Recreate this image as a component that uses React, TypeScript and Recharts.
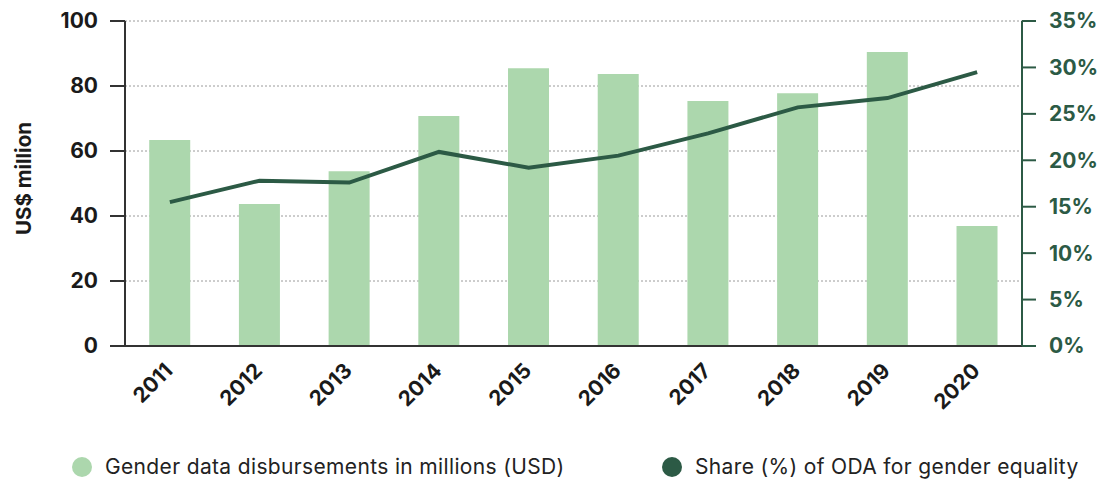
import React from "react";
import {
  ComposedChart, Bar, Line, XAxis, YAxis, CartesianGrid, Legend,
} from "recharts";

const YEARS = ["2011", "2012", "2013", "2014", "2015", "2016", "2017", "2018", "2019", "2020"];
const DISBURSEMENTS = [63.4, 43.7, 53.8, 70.8, 85.5, 83.7, 75.4, 77.8, 90.5, 36.9];
const ODA_SHARE = [15.5, 17.8, 17.6, 20.9, 19.2, 20.5, 22.9, 25.7, 26.7, 29.5];
const LEFT_TICKS = [0, 20, 40, 60, 80, 100];
const RIGHT_TICKS = [0, 5, 10, 15, 20, 25, 30, 35];

const BAR_NAME = "Gender data disbursements in millions (USD)";
const LINE_NAME = "Share (%) of ODA for gender equality";

const BAR_COLOR = "#acd7ad";
const LINE_COLOR = "#2c5a45";
const FONT = "Inter, 'Noto Sans', sans-serif";

const data = YEARS.map((year, i) => ({
  year,
  disbursements: DISBURSEMENTS[i],
  share: ODA_SHARE[i],
}));

function YearTick({ x, y, payload }: any) {
  const ax = x + 4;
  const ay = y + 18;
  return (
    <text
      x={ax}
      y={ay}
      transform={`rotate(-45, ${ax}, ${ay})`}
      textAnchor="end"
      fontFamily={FONT}
      fontSize={21}
      fontWeight={700}
      fill="#1a1a1a"
    >
      {payload.value}
    </text>
  );
}

function YLabel({ viewBox }: any) {
  const cx = viewBox.x + 23;
  const cy = viewBox.y + viewBox.height / 2 - 5;
  return (
    <text
      x={cx}
      y={cy}
      transform={`rotate(-90, ${cx}, ${cy})`}
      textAnchor="middle"
      dominantBaseline="central"
      fontFamily={FONT}
      fontSize={20.5}
      fontWeight={700}
      fill="#1a1a1a"
    >
      US$ million
    </text>
  );
}

function LegendContent() {
  const items = [
    { name: BAR_NAME, color: BAR_COLOR, left: 72 },
    { name: LINE_NAME, color: LINE_COLOR, left: 662 },
  ];
  return (
    <div style={{ position: "relative", height: 51, fontFamily: FONT }}>
      {items.map((it) => (
        <div
          key={it.name}
          style={{ position: "absolute", left: it.left, top: 21, height: 20, display: "flex", alignItems: "center" }}
        >
          <span
            style={{ width: 20, height: 20, borderRadius: "50%", background: it.color, marginRight: 13 }}
          />
          <span style={{ fontSize: 21, letterSpacing: 0.35, color: "#222", lineHeight: "20px" }}>{it.name}</span>
        </div>
      ))}
    </div>
  );
}

export default function App() {
  return (
    <div style={{ position: "absolute", left: 0, top: 0, background: "#fff" }}>
      <ComposedChart
        width={1102}
        height={487}
        data={data}
        margin={{ top: 21, right: 0, left: 0, bottom: 0 }}
        barCategoryGap="27%"
      >
        <CartesianGrid
          yAxisId="left"
          vertical={false}
          stroke="#9a9a9a"
          strokeDasharray="2 2"
        />
        <XAxis
          dataKey="year"
          height={90}
          interval={0}
          tick={<YearTick />}
          tickLine={false}
          axisLine={{ stroke: "#333", strokeWidth: 2 }}
        />
        <YAxis
          yAxisId="left"
          width={125}
          domain={[0, 100]}
          ticks={LEFT_TICKS}
          tickSize={15}
          tickMargin={12}
          tick={{ fontFamily: FONT, fontSize: 21, fontWeight: 700, fill: "#1a1a1a" }}
          tickLine={{ stroke: "#333", strokeWidth: 2 }}
          axisLine={{ stroke: "#333", strokeWidth: 2 }}
          label={<YLabel />}
        />
        <YAxis
          yAxisId="right"
          orientation="right"
          width={80}
          domain={[0, 35]}
          ticks={RIGHT_TICKS}
          tickFormatter={(v) => `${v}%`}
          tickSize={14}
          tickMargin={13}
          tick={{ fontFamily: FONT, fontSize: 21, fontWeight: 700, fill: LINE_COLOR }}
          tickLine={{ stroke: LINE_COLOR, strokeWidth: 2 }}
          axisLine={{ stroke: LINE_COLOR, strokeWidth: 2 }}
        />
        <Bar
          yAxisId="left"
          dataKey="disbursements"
          name={BAR_NAME}
          fill={BAR_COLOR}
          isAnimationActive={false}
        />
        <Line
          yAxisId="right"
          dataKey="share"
          name={LINE_NAME}
          stroke={LINE_COLOR}
          strokeWidth={4}
          dot={false}
          activeDot={false}
          isAnimationActive={false}
        />
        <Legend verticalAlign="bottom" height={51} content={<LegendContent />} />
      </ComposedChart>
    </div>
  );
}
